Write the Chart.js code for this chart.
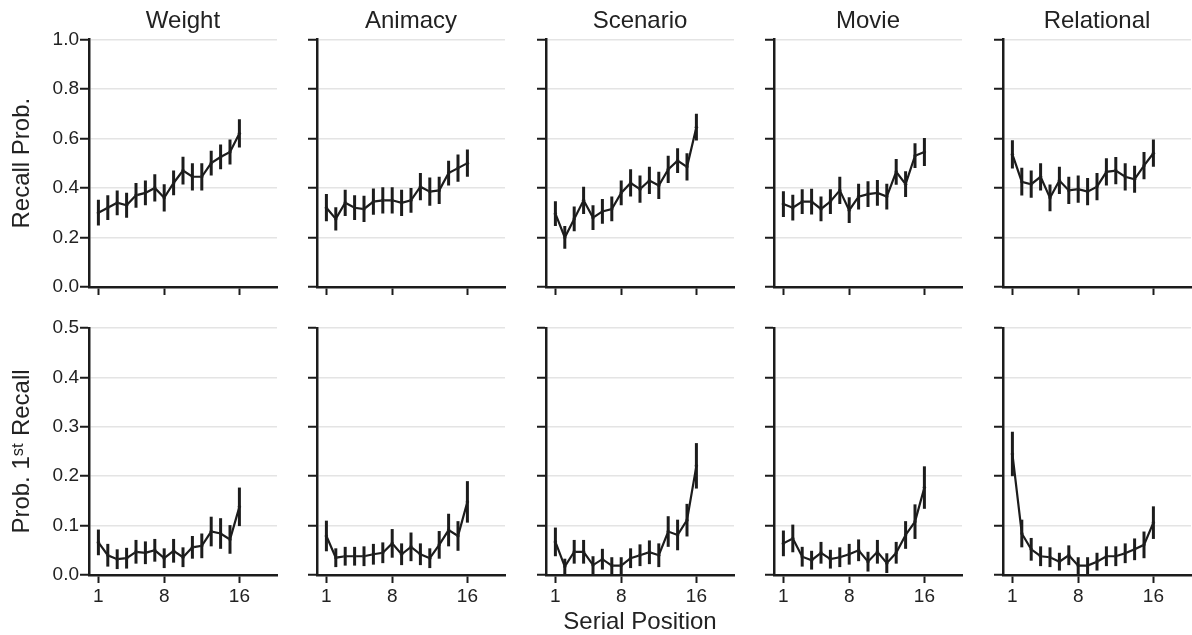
<!DOCTYPE html>
<html>
<head>
<meta charset="utf-8">
<script src="https://cdn.jsdelivr.net/npm/chart.js@4.4.0/dist/chart.umd.min.js"></script>
<style>
  html, body { margin: 0; background: #fff; overflow: hidden; width: 1192px; height: 635px; position: relative; }
</style>
</head>
<body>
<script>
// serial positions and tick labels
const positions = [1, 2, 3, 4, 5, 6, 7, 8, 9, 10, 11, 12, 13, 14, 15, 16];
const xTicks = [1, 8, 16];
const panelNames = ['Weight', 'Animacy', 'Scenario', 'Movie', 'Relational'];

// recall probability (top row)
const weightRecall = [0.30, 0.32, 0.34, 0.33, 0.37, 0.38, 0.40, 0.36, 0.42, 0.47, 0.445, 0.445, 0.50, 0.525, 0.545, 0.62];
const weightRecallErr = [0.052, 0.05, 0.05, 0.05, 0.05, 0.05, 0.055, 0.055, 0.05, 0.056, 0.055, 0.055, 0.05, 0.05, 0.05, 0.057];
const animacyRecall = [0.32, 0.275, 0.34, 0.32, 0.315, 0.345, 0.35, 0.35, 0.34, 0.35, 0.405, 0.385, 0.39, 0.46, 0.48, 0.50];
const animacyRecallErr = [0.055, 0.047, 0.053, 0.05, 0.053, 0.053, 0.053, 0.053, 0.053, 0.05, 0.055, 0.057, 0.055, 0.05, 0.055, 0.055];
const scenarioRecall = [0.296, 0.20, 0.275, 0.35, 0.28, 0.305, 0.315, 0.38, 0.42, 0.395, 0.43, 0.41, 0.475, 0.51, 0.485, 0.645];
const scenarioRecallErr = [0.05, 0.046, 0.05, 0.055, 0.05, 0.05, 0.05, 0.05, 0.055, 0.055, 0.055, 0.055, 0.055, 0.05, 0.055, 0.054];
const movieRecall = [0.335, 0.32, 0.345, 0.345, 0.315, 0.345, 0.39, 0.31, 0.365, 0.375, 0.38, 0.365, 0.465, 0.415, 0.53, 0.545];
const movieRecallErr = [0.052, 0.052, 0.05, 0.052, 0.05, 0.05, 0.055, 0.052, 0.052, 0.052, 0.052, 0.052, 0.052, 0.052, 0.05, 0.057];
const relationalRecall = [0.535, 0.425, 0.415, 0.445, 0.36, 0.43, 0.39, 0.395, 0.385, 0.405, 0.465, 0.47, 0.445, 0.435, 0.49, 0.54];
const relationalRecallErr = [0.057, 0.056, 0.055, 0.055, 0.054, 0.055, 0.055, 0.055, 0.055, 0.055, 0.055, 0.055, 0.055, 0.055, 0.055, 0.055];

// probability of first recall (bottom row)
const weightFirst = [0.066, 0.04, 0.032, 0.034, 0.047, 0.045, 0.05, 0.034, 0.049, 0.036, 0.056, 0.059, 0.088, 0.084, 0.072, 0.138];
const weightFirstErr = [0.026, 0.023, 0.02, 0.021, 0.024, 0.023, 0.023, 0.02, 0.024, 0.02, 0.023, 0.025, 0.03, 0.031, 0.029, 0.039];
const animacyFirst = [0.079, 0.035, 0.038, 0.038, 0.038, 0.042, 0.045, 0.064, 0.042, 0.057, 0.042, 0.034, 0.061, 0.091, 0.079, 0.148];
const animacyFirstErr = [0.031, 0.019, 0.019, 0.019, 0.02, 0.021, 0.021, 0.029, 0.022, 0.029, 0.022, 0.02, 0.028, 0.033, 0.03, 0.042];
const scenarioFirst = [0.067, 0.017, 0.047, 0.047, 0.02, 0.032, 0.019, 0.019, 0.034, 0.04, 0.046, 0.04, 0.088, 0.081, 0.111, 0.221];
const scenarioFirstErr = [0.029, 0.016, 0.024, 0.024, 0.018, 0.021, 0.017, 0.017, 0.02, 0.022, 0.024, 0.024, 0.031, 0.031, 0.033, 0.046];
const movieFirst = [0.064, 0.074, 0.037, 0.03, 0.045, 0.032, 0.036, 0.042, 0.05, 0.027, 0.047, 0.024, 0.045, 0.081, 0.108, 0.177];
const movieFirstErr = [0.026, 0.028, 0.02, 0.019, 0.022, 0.019, 0.02, 0.021, 0.022, 0.02, 0.024, 0.02, 0.022, 0.028, 0.035, 0.043];
const relationalFirst = [0.245, 0.084, 0.052, 0.038, 0.036, 0.027, 0.04, 0.019, 0.019, 0.027, 0.038, 0.038, 0.044, 0.052, 0.061, 0.106];
const relationalFirstErr = [0.045, 0.028, 0.023, 0.02, 0.02, 0.018, 0.02, 0.017, 0.017, 0.018, 0.02, 0.02, 0.02, 0.022, 0.027, 0.033];

const topRow = [
  [weightRecall, weightRecallErr], [animacyRecall, animacyRecallErr], [scenarioRecall, scenarioRecallErr],
  [movieRecall, movieRecallErr], [relationalRecall, relationalRecallErr]
];
const bottomRow = [
  [weightFirst, weightFirstErr], [animacyFirst, animacyFirstErr], [scenarioFirst, scenarioFirstErr],
  [movieFirst, movieFirstErr], [relationalFirst, relationalFirstErr]
];

Chart.defaults.font.family = '"Liberation Sans", Arial, sans-serif';
Chart.defaults.color = '#222';

const INK = '#1c1c1c';
const AXIS_X0 = 89, COL_STEP = 228.4, PLOT_W = 192;

// vertical error bars drawn from each dataset's errors array
const errorBars = {
  id: 'errorBars',
  afterDatasetsDraw(chart) {
    const { ctx, chartArea, scales: { x, y } } = chart;
    const ds = chart.data.datasets[0];
    ctx.save();
    ctx.beginPath();
    ctx.rect(chartArea.left, chartArea.top, chartArea.width, chartArea.height);
    ctx.clip();
    ctx.strokeStyle = INK;
    ctx.lineWidth = 3;
    ds.data.forEach((d, i) => {
      const e = ds.errors[i];
      const px = x.getPixelForValue(d.x);
      ctx.beginPath();
      ctx.moveTo(px, y.getPixelForValue(d.y - e));
      ctx.lineTo(px, y.getPixelForValue(d.y + e));
      ctx.stroke();
    });
    ctx.restore();
  }
};

function makePanel(row, col, means, errs) {
  const isTop = row === 0;
  const yW = col === 0 ? 89 : 20;
  const w = yW + PLOT_W, h = isTop ? 300 : 335;
  const canvas = document.createElement('canvas');
  canvas.width = w;
  canvas.height = h;
  canvas.style.cssText = 'position:absolute;left:' + Math.round(AXIS_X0 + COL_STEP * col - yW) +
    'px;top:' + (isTop ? 0 : 300) + 'px;width:' + w + 'px;height:' + h + 'px';
  document.body.appendChild(canvas);

  return new Chart(canvas.getContext('2d'), {
    type: 'line',
    data: {
      datasets: [{
        data: positions.map((p, i) => ({ x: p, y: means[i] })),
        errors: errs,
        borderColor: INK,
        borderWidth: 2.2,
        pointRadius: 1.8,
        pointBackgroundColor: '#555',
        pointBorderWidth: 0,
        tension: 0
      }]
    },
    options: {
      responsive: false,
      animation: false,
      layout: { padding: { top: isTop ? 0 : 28, right: 0, bottom: 0, left: 0 } },
      plugins: {
        legend: { display: false },
        tooltip: { enabled: false },
        title: {
          display: isTop,
          text: panelNames[col],
          fullSize: false,
          color: '#222',
          font: { size: 24, weight: 'normal' },
          padding: { top: 7, bottom: 3.5 }
        }
      },
      scales: {
        x: {
          type: 'linear',
          min: 0,
          max: 20,
          afterBuildTicks: s => { s.ticks = xTicks.map(v => ({ value: v })); },
          afterFit: s => { s.height = isTop ? 13 : 60; },
          grid: { drawOnChartArea: false, drawTicks: true, tickLength: 8, tickColor: INK, tickWidth: 2 },
          border: { display: true, color: INK, width: 2.5 },
          ticks: { display: !isTop, font: { size: 19 }, color: '#222', padding: 2, maxRotation: 0, autoSkip: false },
          title: {
            display: !isTop && col === 2,
            text: 'Serial Position',
            color: '#222',
            font: { size: 24, lineHeight: 1 },
            padding: { top: 0, bottom: 1 }
          }
        },
        y: {
          min: 0,
          max: isTop ? 1 : 0.5,
          afterFit: s => { s.width = yW; },
          grid: { color: '#e4e4e4', lineWidth: 1.5, tickColor: INK, tickLength: 9, tickWidth: 2 },
          border: { display: true, color: INK, width: 2.5 },
          ticks: {
            display: col === 0,
            stepSize: isTop ? 0.2 : 0.1,
            callback: v => v.toFixed(1),
            font: { size: 19 },
            color: '#222',
            padding: 1
          },
          title: {
            display: col === 0,
            text: isTop ? 'Recall Prob.' : 'Prob. 1ˢᵗ Recall',
            color: '#222',
            font: { size: 24, lineHeight: 1 },
            padding: { top: 10, bottom: 0 }
          }
        }
      }
    },
    plugins: [errorBars]
  });
}

topRow.forEach(([m, e], c) => makePanel(0, c, m, e));
bottomRow.forEach(([m, e], c) => makePanel(1, c, m, e));
</script>
</body>
</html>
